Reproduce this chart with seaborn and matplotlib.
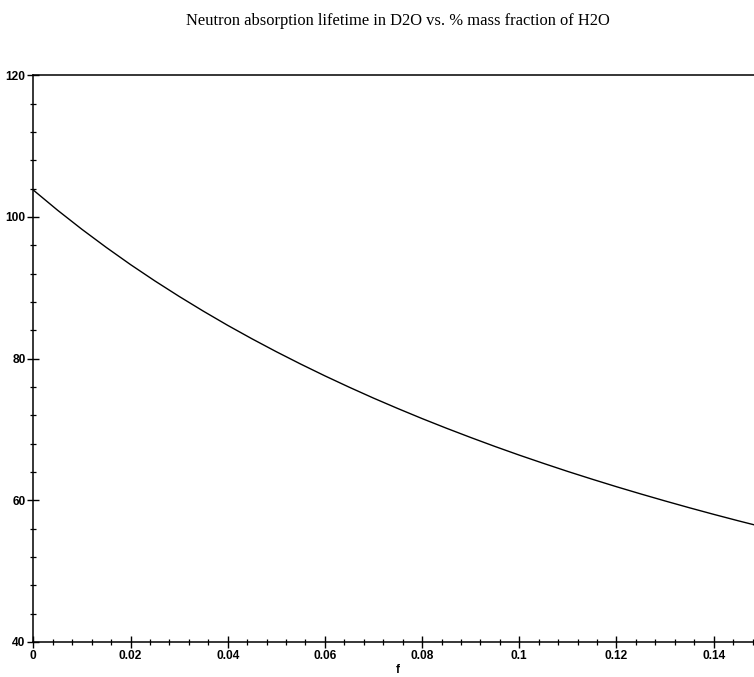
import numpy as np
import pandas as pd
import matplotlib
matplotlib.use("Agg")
import matplotlib.pyplot as plt
from matplotlib.ticker import MultipleLocator, FixedLocator
import seaborn as sns

# Values
f_vals = [0.0, 0.005, 0.01, 0.015, 0.02, 0.025, 0.03, 0.035, 0.04, 0.045,
          0.05, 0.055, 0.06, 0.065, 0.07, 0.075, 0.08, 0.085, 0.09, 0.095,
          0.10, 0.105, 0.11, 0.115, 0.12, 0.125, 0.13, 0.135, 0.14, 0.145, 0.15]
tau_vals = [103.80, 100.95, 98.26, 95.71, 93.28, 90.98, 88.79, 86.70, 84.70, 82.80,
            80.98, 79.24, 77.57, 75.97, 74.43, 72.96, 71.54, 70.18, 68.87, 67.60,
            66.38, 65.21, 64.07, 62.98, 61.92, 60.90, 59.91, 58.95, 58.02, 57.12, 56.25]
x_ticks = [0, 0.02, 0.04, 0.06, 0.08, 0.1, 0.12, 0.14]
x_ticklabels = ["0", "0.02", "0.04", "0.06", "0.08", "0.1", "0.12", "0.14"]
y_ticks = [40, 60, 80, 100, 120]
title = "Neutron absorption lifetime in D2O vs. % mass fraction of H2O"
xlabel = "f"

df = pd.DataFrame({"f": f_vals, "tau": tau_vals})

sns.set_theme(style="white")
plt.rcParams["font.family"] = ["Liberation Sans", "DejaVu Sans"]

W, H = 754, 677
fig = plt.figure(figsize=(W / 100, H / 100), dpi=100)
left = 33.3 / W
bottom = (H - 642) / H
top = (H - 75.3) / H
ax = fig.add_axes([left, bottom, 1.0 - left, top - bottom])

sns.lineplot(data=df, x="f", y="tau", ax=ax, color="black", linewidth=1.0)

xmax = (754 - 33.3) / 4860.0
ax.set_xlim(0, xmax)
ax.set_ylim(40, 120)

ax.set_xticks(x_ticks)
ax.set_xticklabels(x_ticklabels)
ax.xaxis.set_minor_locator(MultipleLocator(0.004))
ax.yaxis.set_major_locator(FixedLocator(y_ticks))
ax.yaxis.set_minor_locator(MultipleLocator(4))

for s in ["left", "bottom", "top"]:
    ax.spines[s].set_visible(True)
    ax.spines[s].set_color("black")
    ax.spines[s].set_linewidth(1.1)
ax.spines["right"].set_visible(False)

ax.tick_params(axis="both", which="major", direction="inout", length=9,
               width=1.0, color="black", labelsize=8.6, pad=1)
ax.tick_params(axis="both", which="minor", direction="inout", length=5,
               width=0.9, color="black")
ax.tick_params(axis="x", which="both", bottom=True, top=False)
ax.tick_params(axis="y", which="both", left=True, right=False)
for lab in ax.get_xticklabels() + ax.get_yticklabels():
    lab.set_fontweight("bold")
    lab.set_color("black")

ax.set_xlabel(xlabel, fontsize=8.6, fontweight="bold", color="black")
ax.set_ylabel("")
ax.xaxis.set_label_coords(0.075 / xmax, -0.039)
ax.grid(False)

fig.text(398 / W, 1 - 21 / H, title, ha="center", va="center",
         fontsize=11.9, family=["Liberation Serif", "DejaVu Serif"], color="black")

fig.savefig("out.png", dpi=100)
